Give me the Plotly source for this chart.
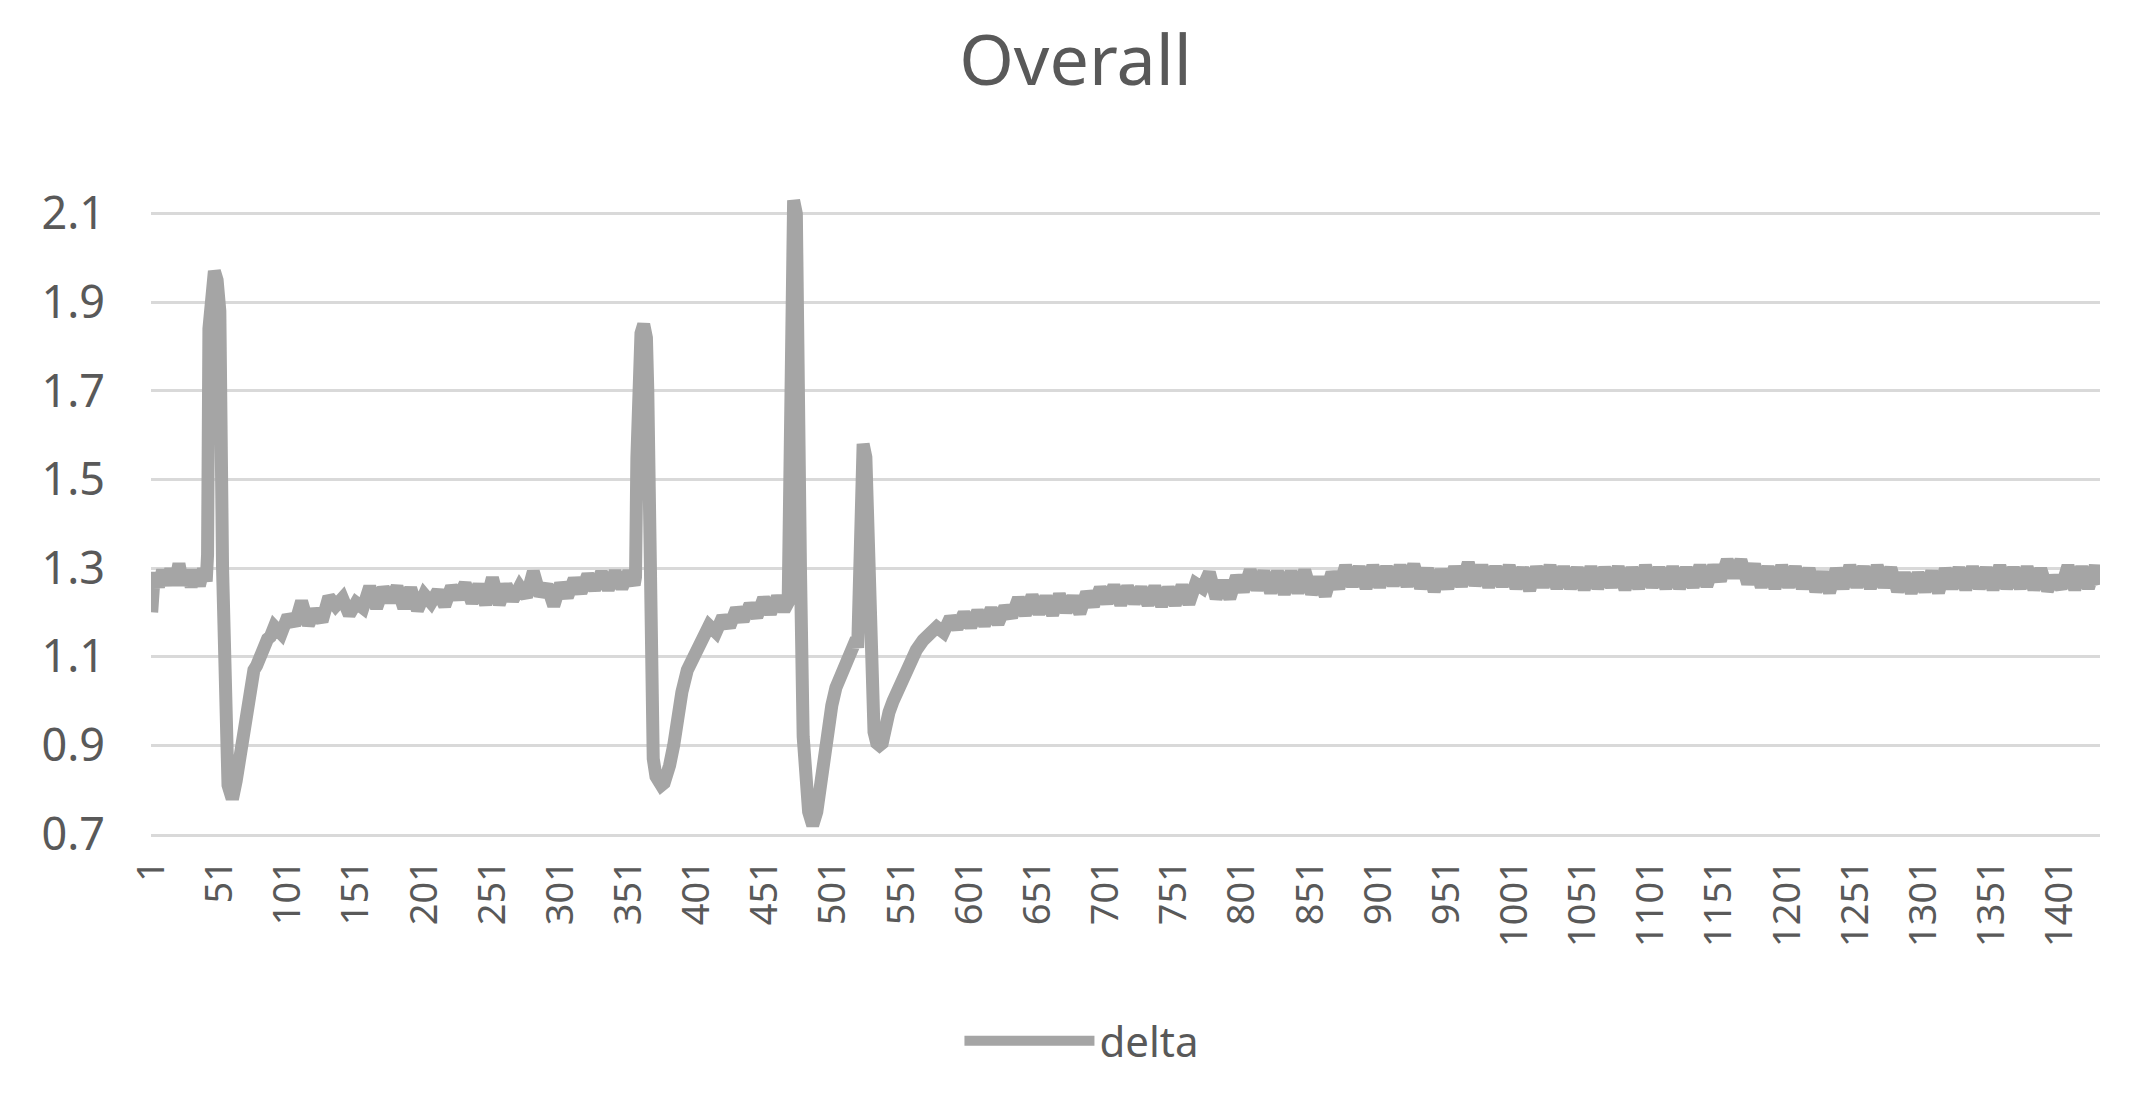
import plotly.graph_objects as go

# ── Data ────────────────────────────────────────────────────────
idx = [
    1, 3, 6, 9, 12, 15, 18, 21, 24, 27, 30, 33, 36, 39, 41,
    42, 43, 45, 47, 49, 51, 53, 55, 57, 59, 61, 63, 66, 68, 70,
    72, 74, 76, 78, 80, 82, 84, 86, 88, 91, 96, 101, 106, 111, 116,
    121, 126, 131, 136, 141, 146, 151, 156, 161, 166, 171, 176, 181, 186, 191,
    196, 201, 206, 211, 216, 221, 226, 231, 236, 241, 246, 251, 256, 261, 266,
    271, 276, 281, 286, 291, 296, 301, 306, 311, 316, 321, 326, 331, 336, 341,
    346, 351, 355, 356, 357, 358, 360, 362, 364, 365, 367, 369, 371, 373, 375,
    377, 379, 381, 384, 387, 390, 394, 398, 402, 406, 410, 415, 420, 425, 430,
    435, 440, 445, 450, 455, 460, 465, 468, 469, 470, 472, 474, 476, 477, 479,
    481, 483, 485, 487, 489, 491, 494, 497, 500, 503, 507, 511, 515, 518, 519,
    520, 522, 523, 525, 527, 529, 531, 533, 535, 537, 539, 542, 545, 549, 553,
    557, 562, 567, 572, 577, 582, 587, 592, 597, 602, 607, 612, 617, 622, 627,
    632, 637, 642, 647, 652, 657, 662, 667, 672, 677, 682, 687, 692, 697, 702,
    707, 712, 717, 722, 727, 732, 737, 742, 747, 752, 757, 762, 767, 772, 777,
    782, 787, 792, 797, 802, 807, 812, 817, 822, 827, 832, 837, 842, 847, 852,
    857, 862, 867, 872, 877, 882, 887, 892, 897, 902, 907, 912, 917, 922, 927,
    932, 937, 942, 947, 952, 957, 962, 967, 972, 977, 982, 987, 992, 997, 1002,
    1007, 1012, 1017, 1022, 1027, 1032, 1037, 1042, 1047, 1052, 1057, 1062, 1067, 1072, 1077,
    1082, 1087, 1092, 1097, 1102, 1107, 1112, 1117, 1122, 1127, 1132, 1137, 1142, 1147, 1152,
    1157, 1162, 1167, 1172, 1177, 1182, 1187, 1192, 1197, 1202, 1207, 1212, 1217, 1222, 1227,
    1232, 1237, 1242, 1247, 1252, 1257, 1262, 1267, 1272, 1277, 1282, 1287, 1292, 1297, 1302,
    1307, 1312, 1317, 1322, 1327, 1332, 1337, 1342, 1347, 1352, 1357, 1362, 1367, 1372, 1377,
    1382, 1387, 1392, 1397, 1402, 1407, 1412, 1417, 1422, 1427, 1430,
]

delta = [
    1.20, 1.29, 1.258, 1.295, 1.262, 1.298, 1.262, 1.31, 1.262, 1.295, 1.258, 1.295, 1.26, 1.298, 1.27,
    1.33, 1.84, 1.90, 1.97, 1.95, 1.88, 1.30, 0.92, 0.81, 0.79, 0.79, 0.82, 0.88, 0.93, 0.99,
    1.03, 1.05, 1.07, 1.08, 1.10, 1.115, 1.13, 1.14, 1.145, 1.168, 1.152, 1.192, 1.172, 1.225, 1.172,
    1.205, 1.18, 1.235, 1.215, 1.232, 1.195, 1.222, 1.21, 1.258, 1.21, 1.255, 1.225, 1.258, 1.21, 1.255,
    1.205, 1.24, 1.222, 1.248, 1.215, 1.258, 1.232, 1.265, 1.222, 1.262, 1.218, 1.278, 1.218, 1.262, 1.228,
    1.258, 1.235, 1.292, 1.238, 1.262, 1.215, 1.265, 1.235, 1.275, 1.245, 1.285, 1.252, 1.29, 1.252, 1.292,
    1.255, 1.292, 1.262, 1.28, 1.55, 1.80, 1.83, 1.85, 1.82, 1.70, 1.05, 0.87, 0.83, 0.81, 0.81,
    0.815, 0.83, 0.855, 0.90, 0.97, 1.02, 1.07, 1.095, 1.12, 1.14, 1.17, 1.155, 1.19, 1.168, 1.208,
    1.182, 1.218, 1.19, 1.232, 1.198, 1.235, 1.205, 1.222, 1.45, 1.95, 2.13, 2.10, 1.80, 1.30, 0.92,
    0.80, 0.75, 0.73, 0.73, 0.75, 0.80, 0.87, 0.94, 0.99, 1.03, 1.06, 1.09, 1.12, 1.14, 1.12,
    1.35, 1.55, 1.58, 1.55, 1.30, 1.00, 0.93, 0.905, 0.90, 0.905, 0.94, 0.975, 1.00, 1.03, 1.06,
    1.09, 1.115, 1.137, 1.15, 1.167, 1.155, 1.188, 1.165, 1.198, 1.168, 1.202, 1.172, 1.208, 1.175, 1.212,
    1.19, 1.232, 1.195, 1.238, 1.198, 1.235, 1.195, 1.24, 1.202, 1.235, 1.198, 1.245, 1.215, 1.255, 1.222,
    1.26, 1.218, 1.258, 1.222, 1.255, 1.218, 1.258, 1.215, 1.255, 1.218, 1.26, 1.22, 1.265, 1.255, 1.29,
    1.232, 1.27, 1.232, 1.282, 1.248, 1.295, 1.252, 1.292, 1.245, 1.292, 1.242, 1.292, 1.245, 1.295, 1.242,
    1.278, 1.238, 1.29, 1.255, 1.305, 1.26, 1.302, 1.255, 1.305, 1.258, 1.302, 1.262, 1.305, 1.26, 1.308,
    1.255, 1.298, 1.248, 1.295, 1.255, 1.302, 1.26, 1.312, 1.262, 1.305, 1.258, 1.302, 1.26, 1.305, 1.255,
    1.30, 1.25, 1.302, 1.258, 1.305, 1.255, 1.302, 1.255, 1.30, 1.252, 1.302, 1.255, 1.30, 1.258, 1.302,
    1.252, 1.30, 1.255, 1.305, 1.258, 1.30, 1.255, 1.302, 1.255, 1.30, 1.258, 1.305, 1.26, 1.305, 1.272,
    1.318, 1.28, 1.318, 1.265, 1.308, 1.258, 1.302, 1.255, 1.305, 1.258, 1.302, 1.255, 1.298, 1.248, 1.29,
    1.245, 1.298, 1.255, 1.305, 1.258, 1.302, 1.255, 1.305, 1.258, 1.30, 1.248, 1.288, 1.245, 1.288, 1.248,
    1.292, 1.245, 1.298, 1.255, 1.30, 1.252, 1.302, 1.255, 1.30, 1.252, 1.305, 1.255, 1.30, 1.255, 1.302,
    1.252, 1.298, 1.25, 1.28, 1.255, 1.305, 1.252, 1.302, 1.255, 1.305, 1.262,
]
assert len(idx) == len(delta)

y_ticks = [0.7, 0.9, 1.1, 1.3, 1.5, 1.7, 1.9, 2.1]
x_ticks = [1, 51, 101, 151, 201, 251, 301, 351, 401, 451, 501, 551, 601, 651, 701,
           751, 801, 851, 901, 951, 1001, 1051, 1101, 1151, 1201, 1251, 1301, 1351, 1401]
n_points = 1430

# ── Styling ─────────────────────────────────────────────────────
LINE_GREY = "#a5a5a5"
GRID_GREY = "#d9d9d9"
TEXT_GREY = "#595959"
FONT = "Noto Sans"

fig = go.Figure()

fig.add_trace(go.Scatter(
    x=idx,
    y=delta,
    mode="lines",
    name="delta",
    line=dict(color=LINE_GREY, width=13),
))

fig.update_layout(
    width=2151,
    height=1102,
    paper_bgcolor="white",
    plot_bgcolor="white",
    font=dict(family=FONT, color=TEXT_GREY),
    margin=dict(l=151, r=51, t=187, b=268),
    title=dict(
        text="Overall",
        font=dict(size=70, color=TEXT_GREY, family=FONT),
        x=0.5, xref="container", xanchor="center",
        y=1 - 60 / 1102, yref="container", yanchor="middle",
    ),
    showlegend=True,
    legend=dict(
        orientation="h",
        x=0.503, xref="container", xanchor="center",
        y=1 - 1041 / 1102, yref="container", yanchor="middle",
        font=dict(size=42, color=TEXT_GREY, family=FONT),
        itemwidth=130,
        bgcolor="rgba(0,0,0,0)",
    ),
    xaxis=dict(
        range=[0.5, n_points + 0.5],
        tickmode="array",
        tickvals=x_ticks,
        ticktext=[str(v) for v in x_ticks],
        tickangle=-90,
        tickfont=dict(size=38, color=TEXT_GREY, family=FONT),
        ticklabelstandoff=8,
        showgrid=False,
        zeroline=False,
        showline=True,
        linecolor=GRID_GREY,
        linewidth=2.5,
    ),
    yaxis=dict(
        range=[0.7, 2.16],
        tickmode="array",
        tickvals=y_ticks,
        ticktext=[f"{v:.1f}" for v in y_ticks],
        tickfont=dict(size=45, color=TEXT_GREY, family=FONT),
        ticklabelstandoff=45,
        showgrid=True,
        gridcolor=GRID_GREY,
        gridwidth=2.5,
        zeroline=False,
        showline=False,
    ),
)

# page body has a default 8px margin; drop it so the figure sits at (0, 0)
fig.write_html(
    "out.html",
    config={"displayModeBar": False},
    post_script="document.body.style.margin = '0px';",
)
